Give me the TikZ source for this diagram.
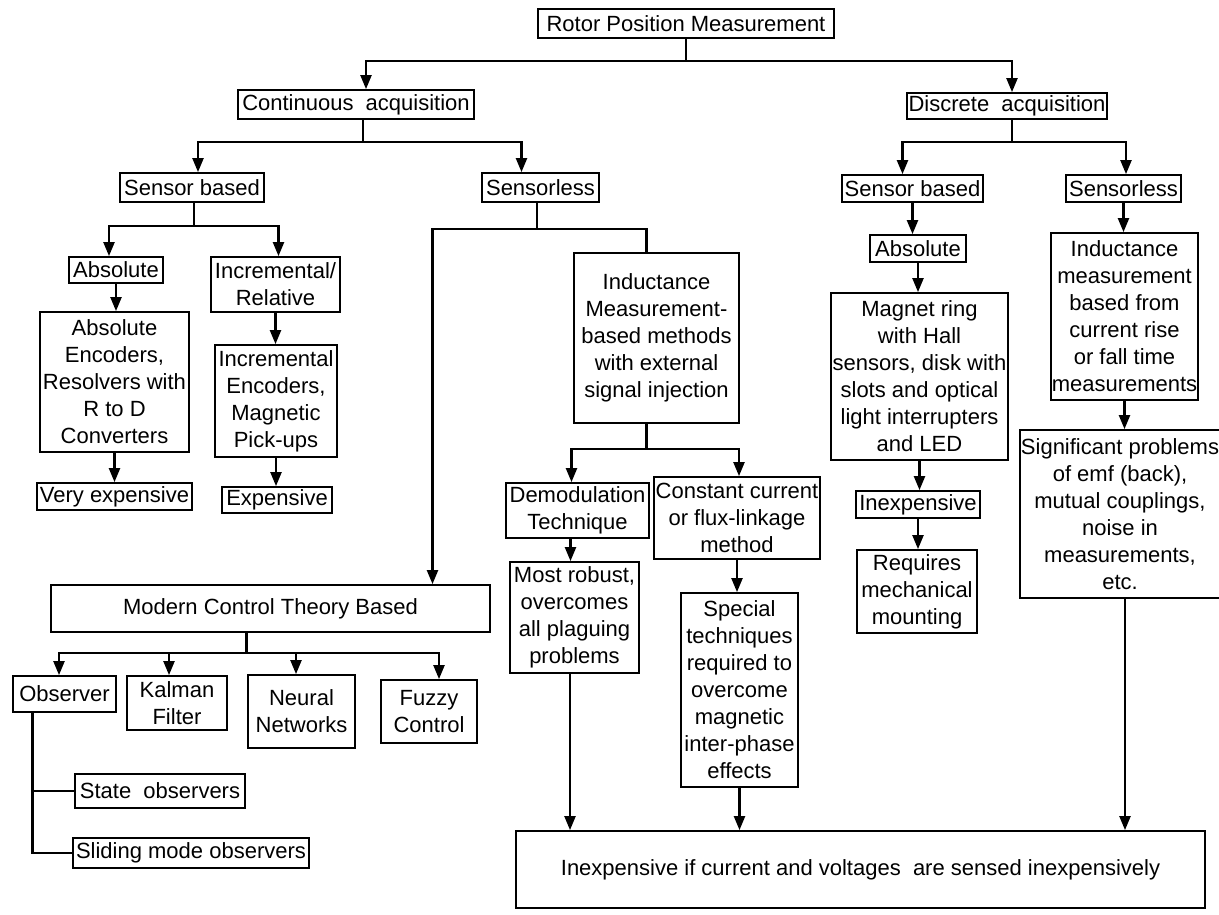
\documentclass[tikz,border=0pt]{standalone}
\usepackage{fontspec}
\setmainfont{Liberation Sans}
\usetikzlibrary{arrows.meta}

\begin{document}
\begin{tikzpicture}[x=1pt,y=-1pt,
  bx/.style 2 args={draw,line width=1.8pt,inner sep=1pt,align=center,
    minimum width=#1pt,minimum height=#2pt,font=\fontsize{22}{27}\selectfont},
  ln/.style={line width=2.2pt},
  arr/.style={line width=2.2pt,-{Triangle[length=14pt,width=11pt]}}]
  \useasboundingbox (0,0) rectangle (1219,914);
  \node[bx={296}{29}] (root) at (686,23.5) {Rotor Position Measurement};
  \node[bx={236}{29}] (cont) at (356,104.5) {Continuous\ \ acquisition};
  \node[bx={200}{26}] (disc) at (1007,106) {Discrete\ \ acquisition};
  \node[bx={144}{29}] (sensL) at (192,187.5) {Sensor based};
  \node[bx={117}{29}] (lessL) at (540.5,187.5) {Sensorless};
  \node[bx={94}{26}] (absL) at (116,270) {Absolute};
  \node[bx={129}{55}] (incr) at (275.5,284.5) {Incremental/\\Relative};
  \node[bx={149}{140}] (absenc) at (114.5,382) {Absolute\\Encoders,\\Resolvers with\\R to D\\Converters};
  \node[bx={122}{112}] (incenc) at (276,401) {Incremental\\Encoders,\\Magnetic\\Pick-ups};
  \node[bx={155}{27}] (vexp) at (114.5,496.5) {Very expensive};
  \node[bx={110}{26}] (expn) at (277,500) {Expensive};
  \node[bx={165}{170}] (induct) at (656.5,338) {Inductance\\Measurement-\\based methods\\with external\\signal injection};
  \node[bx={143}{55}] (demod) at (577.5,510.5) {Demodulation\\Technique};
  \node[bx={166}{82}] (const) at (737,518) {Constant current\\or flux-linkage\\method};
  \node[bx={129}{111}] (robust) at (574.5,617.5) {Most robust,\\overcomes\\all plaguing\\problems};
  \node[bx={117}{194}] (special) at (739.5,690) {Special\\techniques\\required to\\overcome\\magnetic\\inter-phase\\effects};
  \node[bx={141}{27}] (sensR) at (912.5,188.5) {Sensor based};
  \node[bx={115}{27}] (lessR) at (1123.5,188.5) {Sensorless};
  \node[bx={96}{27}] (absR) at (918,248.5) {Absolute};
  \node[bx={177}{167}] (magnet) at (919.5,376.5) {Magnet ring\\with Hall\\sensors, disk with\\slots and optical\\light interrupters\\and LED};
  \node[bx={124}{27}] (cheap) at (918,504.5) {Inexpensive};
  \node[bx={120}{83}] (mount) at (917,591.5) {Requires\\mechanical\\mounting};
  \node[bx={147}{167}] (indR) at (1124.5,316.5) {Inductance\\measurement\\based from\\current rise\\or fall time\\measurements};
  \node[bx={194}{168}] (signif) at (1120,514) {Significant problems\\of emf (back),\\mutual couplings,\\noise in\\measurements,\\etc.};
  \node[bx={439}{47}] (mct) at (270.5,608.5) {Modern Control Theory Based};
  \node[bx={103}{36}] (obs) at (64.5,694) {Observer};
  \node[bx={100}{54}] (kalman) at (177,703) {Kalman\\Filter};
  \node[bx={107}{73}] (neural) at (301.5,711.5) {Neural\\Networks};
  \node[bx={96}{63}] (fuzzy) at (429,711.5) {Fuzzy\\Control};
  \node[bx={170}{34}] (state) at (160,791) {State\ \ observers};
  \node[bx={236}{30}] (sliding) at (191,853) {Sliding mode observers};
  \node[bx={689}{77}] (bottom) at (860.5,869.5) {Inexpensive if current and voltages\ \ are sensed inexpensively};
  \draw[arr] (root.south) -- ++(0,22) -| ([xshift=10pt]cont.north);
  \draw[arr] (root.south) -- ++(0,22) -| ([xshift=5pt]disc.north);
  \draw[arr] ([xshift=7pt]cont.south) -- ++(0,22) -| ([xshift=6pt]sensL.north);
  \draw[arr] ([xshift=7pt]cont.south) -- ++(0,22) -| ([xshift=-19pt]lessL.north);
  \draw[arr] ([xshift=2pt]sensL.south) -- ++(0,23) -| ([xshift=-7pt]absL.north);
  \draw[arr] ([xshift=2pt]sensL.south) -- ++(0,23) -| ([xshift=3pt]incr.north);
  \draw[arr] ([xshift=-3.5pt]lessL.south) -- ++(0,26) -| ([xshift=162pt]mct.north);
  \draw[ln] ([xshift=-3.5pt]lessL.south) -- ++(0,26) -| ([xshift=-10pt]induct.north);
  \draw[arr] ([xshift=-10pt]induct.south) -- ++(0,25) -| ([xshift=-6pt]demod.north);
  \draw[arr] ([xshift=-10pt]induct.south) -- ++(0,25) -| ([xshift=2pt]const.north);
  \draw[arr] ([xshift=5pt]disc.south) -- ++(0,22) -| ([xshift=-10pt]sensR.north);
  \draw[arr] ([xshift=5pt]disc.south) -- ++(0,22) -| ([xshift=2.5pt]lessR.north);
  \foreach \a/\b in {absL/absenc,incr/incenc,absenc/vexp,incenc/expn,const/special,
    sensR/absR,absR/magnet,magnet/cheap,cheap/mount,lessR/indR,indR/signif}
    {\draw[arr] (\a.south) -- (\a.south |- \b.north);}
  \draw[arr] ([xshift=-7pt]demod.south) -- ([xshift=-7pt]demod.south |- robust.north);
  \draw[arr] ([xshift=-4.5pt]robust.south) -- ([xshift=-4.5pt]robust.south |- bottom.north);
  \draw[arr] (special.south) -- (special.south |- bottom.north);
  \draw[arr] ([xshift=5pt]signif.south) -- ([xshift=5pt]signif.south |- bottom.north);
  \foreach \n/\s in {obs/-5.5,kalman/-8,neural/-5.5,fuzzy/10}
    {\draw[arr] ([xshift=-24pt]mct.south) -- ++(0,20) -| ([xshift=\s pt]\n.north);}
  \draw[ln] ([xshift=-32pt]obs.south) |- (state.west);
  \draw[ln] ([xshift=-32pt]obs.south) |- (sliding.west);
\end{tikzpicture}
\end{document}
